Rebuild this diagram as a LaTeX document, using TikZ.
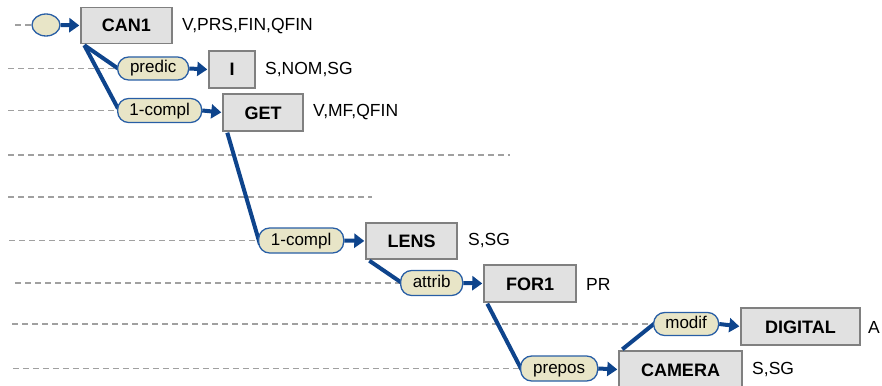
\documentclass[tikz,border=0pt]{standalone}
\usepackage{fontspec}
\setmainfont{Liberation Sans}
\usetikzlibrary{arrows.meta,shapes.geometric}
\definecolor{linkblue}{RGB}{14,68,140}
\definecolor{pillfill}{RGB}{232,229,199}
\definecolor{pilldraw}{RGB}{40,94,165}
\definecolor{boxfill}{RGB}{225,225,225}
\definecolor{boxdraw}{RGB}{128,128,128}
\definecolor{dashgray}{RGB}{160,160,160}
\tikzset{
  wordbox/.style={rectangle, draw=boxdraw, fill=boxfill, line width=1.4pt, inner sep=0pt,
    text height=13pt, text depth=0pt,
    font=\fontsize{18}{20}\selectfont\bfseries},
  pill/.style={rectangle, rounded corners=11pt, draw=pilldraw, fill=pillfill, line width=1.3pt, inner sep=0pt,
    text height=12.5pt, text depth=3.5pt,
    font=\fontsize{17}{20}\selectfont},
  gramlabel/.style={anchor=west, inner sep=0pt, font=\fontsize{17.5}{20}\selectfont},
  guide/.style={draw=dashgray, line width=1.4pt, dash pattern=on 6pt off 4pt},
  link/.style={draw=linkblue, line width=4pt},
  arr/.style={draw=linkblue, line width=4pt, -{Triangle[length=10pt,width=14pt]}, shorten >=1pt}
}
\begin{document}
\begin{tikzpicture}[x=1pt,y=-1pt]
\useasboundingbox (0,0) rectangle (882,385);
% root
\node[ellipse, draw=pilldraw, fill=pillfill, line width=1.3pt, minimum width=28pt, minimum height=22pt, inner sep=0pt] (root) at (46,25) {};
% boxes
\node[wordbox, minimum width=91pt, minimum height=36pt] (can) at (126.5,25.5) {CAN1};
\node[wordbox, minimum width=46pt, minimum height=37pt] (i) at (232,69.5) {I};
\node[wordbox, minimum width=80pt, minimum height=37pt] (get) at (263,112.5) {GET};
\node[wordbox, minimum width=91pt, minimum height=36pt] (lens) at (411.5,241) {LENS};
\node[wordbox, minimum width=92pt, minimum height=37pt] (for) at (530,283.5) {FOR1};
\node[wordbox, minimum width=119pt, minimum height=37pt] (digital) at (800.5,326.5) {DIGITAL};
\node[wordbox, minimum width=123pt, minimum height=37pt] (camera) at (680.5,369.5) {CAMERA};
% grammatical labels
\node[gramlabel] (lcan) at (182,26) {V,PRS,FIN,QFIN};
\node[gramlabel] (li) at (265,70) {S,NOM,SG};
\node[gramlabel] (lget) at (313,112) {V,MF,QFIN};
\node[gramlabel] (llens) at (468,241) {S,SG};
\node[gramlabel] (lfor) at (586,284) {PR};
\node[gramlabel] (ldig) at (868,327) {A};
\node[gramlabel] (lcam) at (752,370) {S,SG};
% guide line starts
\coordinate (g1) at (15,25);
\coordinate (g2) at (8,68.5);
\coordinate (g3) at (8,110.5);
\coordinate (g4a) at (8,155); \coordinate (g4b) at (510,155);
\coordinate (g5a) at (8,197); \coordinate (g5b) at (372,197);
\coordinate (g6) at (9,240.5);
\coordinate (g7) at (15,283);
\coordinate (g8) at (12,324);
\coordinate (g9) at (13,368.5);
\coordinate (pw1) at (117,68.5);
\coordinate (pw2) at (117,110.5);
\coordinate (pw3) at (258,240.5);
\coordinate (pw4) at (400,283);
\coordinate (pw5) at (520,368.5);
\coordinate (pw6) at (653,324);
\draw[guide] (g1) -- (root.west);
\draw[guide] (g2) -- (pw1);
\draw[guide] (g3) -- (pw2);
\draw[guide] (g4a) -- (g4b);
\draw[guide] (g5a) -- (g5b);
\draw[guide] (g6) -- (pw3);
\draw[guide] (g7) -- (pw4);
\draw[guide] (g8) -- (pw6);
\draw[guide] (g9) -- (pw5);
% links
\draw[link] ([xshift=4pt,yshift=-1pt]can.south west) -- ([xshift=1pt]pw1);
\draw[link] ([xshift=4pt,yshift=-1pt]can.south west) -- ([xshift=1pt,yshift=2pt]pw2);
\draw[link] ([xshift=5pt,yshift=-1pt]get.south west) -- ([xshift=2pt,yshift=-4pt]pw3);
\draw[link] ([xshift=4pt,yshift=-1pt]lens.south west) -- ([xshift=2pt]pw4);
\draw[link] ([xshift=4pt,yshift=-1pt]for.south west) -- ([xshift=2pt,yshift=-2pt]pw5);
\draw[link] ([xshift=4pt,yshift=1pt]camera.north west) -- ([xshift=2pt,yshift=1pt]pw6);
% pills
\node[pill, minimum width=71pt, minimum height=23pt, anchor=west] (predic) at (pw1) {predic};
\node[pill, minimum width=84pt, minimum height=24pt, anchor=west] (comp1) at (pw2) {1-compl};
\node[pill, minimum width=85pt, minimum height=25pt, anchor=west] (comp2) at (pw3) {1-compl};
\node[pill, minimum width=62pt, minimum height=25pt, anchor=west] (attrib) at (pw4) {attrib};
\node[pill, minimum width=77pt, minimum height=25pt, anchor=west] (prepos) at (pw5) {prepos};
\node[pill, minimum width=65pt, minimum height=23pt, anchor=west] (modif) at (pw6) {modif};
% arrows
\draw[arr] (root.east) -- (can.west);
\draw[arr] (predic.east) -- (i.west);
\draw[arr] (comp1.east) -- (get.west);
\draw[arr] (comp2.east) -- (lens.west);
\draw[arr] (attrib.east) -- (for.west);
\draw[arr] (prepos.east) -- (camera.west);
\draw[arr] (modif.east) -- (digital.west);
\end{tikzpicture}
\end{document}
